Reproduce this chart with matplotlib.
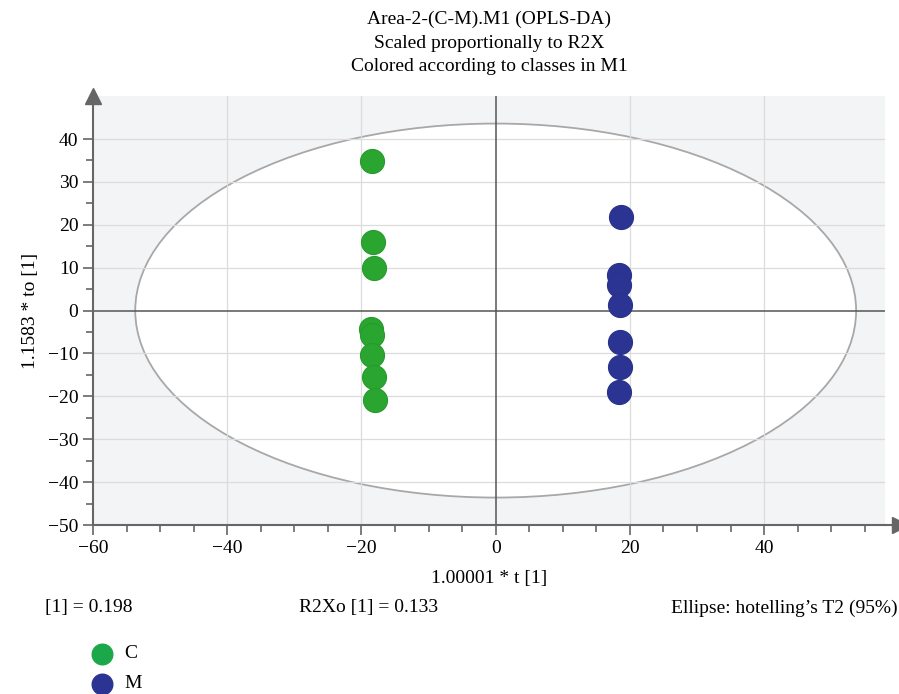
import matplotlib.pyplot as plt
from matplotlib.patches import Ellipse

plt.rcParams['font.family'] = ['Liberation Serif', 'DejaVu Serif']

# scores per class
c_t = [-18.5, -18.3, -18.2, -18.6, -18.4, -18.5, -18.2, -18.0]
c_to = [34.8, 16.0, 9.9, -4.2, -5.7, -10.4, -15.6, -20.9]
m_t = [18.7, 18.3, 18.4, 18.5, 18.5, 18.5, 18.4]
m_to = [21.9, 8.2, 5.9, 1.2, -7.3, -13.1, -18.9]

ell_a, ell_b = 53.7, 43.6  # hotelling T2 semi-axes

green = '#2aa530'
blue = '#2c3493'
fs = 14

fig = plt.figure(figsize=(8.99, 6.94), dpi=100)
ax = fig.add_axes([0.1034, 0.2435, 0.881, 0.618])
ax.set_facecolor('#f3f4f6')

ax.add_patch(Ellipse((0, 0), 2 * ell_a, 2 * ell_b, facecolor='white',
                     edgecolor='#a8a8a8', lw=1.3, zorder=1))

for v in [-40, -20, 20, 40]:
    ax.axvline(v, color='#dcdcdc', lw=0.9, zorder=2)
for v in [40, 30, 20, 10, -10, -20, -30, -40]:
    ax.axhline(v, color='#dcdcdc', lw=0.9, zorder=2)
ax.axhline(0, color='#555555', lw=1.1, zorder=2)
ax.axvline(0, color='#555555', lw=1.1, zorder=2)

ax.scatter(c_t, c_to, s=300, color=green, edgecolors='#279a2d', lw=0.8, zorder=4)
ax.scatter(m_t, m_to, s=300, color=blue, edgecolors='#2a3289', lw=0.8, zorder=4)

ax.set_xlim(-60, 58)
ax.set_ylim(-50, 50)
ax.set_xticks([-60, -40, -20, 0, 20, 40])
ax.set_xticklabels(['\u221260', '\u221240', '\u221220', '0', '20', '40'])
ax.set_yticks(range(-50, 41, 10))
ax.set_yticklabels([str(v).replace('-', '\u2212') for v in range(-50, 41, 10)])
ax.set_xticks(range(-60, 58, 5), minor=True)
ax.set_yticks(range(-50, 41, 5), minor=True)
ax.tick_params(labelsize=fs, color='#666666', width=1.2, length=7)
ax.tick_params(which='minor', color='#666666', width=1.2, length=5)

for s in ['top', 'right']:
    ax.spines[s].set_visible(False)
for s in ['left', 'bottom']:
    ax.spines[s].set_color('#666666')
    ax.spines[s].set_linewidth(1.5)

# axis arrows
ax.plot([-60], [50], marker='^', ms=11, color='#666666', clip_on=False, zorder=5)
ax.plot([60.3], [-50], marker='>', ms=11, color='#666666', clip_on=False, zorder=5)
ax.plot([58, 60], [-50, -50], color='#666666', lw=1.5, clip_on=False)

ax.set_xlabel('1.00001 * t [1]', fontsize=fs, labelpad=10)
ax.set_ylabel('1.1583 * to [1]', fontsize=fs, labelpad=6)
ax.set_title('Area-2-(C-M).M1 (OPLS-DA)\nScaled proportionally to R2X\n'
             'Colored according to classes in M1', fontsize=fs, pad=18,
             linespacing=1.5)

fig.text(0.05, 0.124, '[1] = 0.198', fontsize=fs, va='center')
fig.text(0.333, 0.124, 'R2Xo [1] = 0.133', fontsize=fs, va='center')
fig.text(0.998, 0.124, 'Ellipse: hotelling\u2019s T2 (95%)', fontsize=fs,
         va='center', ha='right')

lax = fig.add_axes([0, 0, 1, 1], facecolor='none')
lax.set_axis_off()
lax.set_xlim(0, 1)
lax.set_ylim(0, 1)
lax.scatter([0.1135], [1 - 654 / 694], s=220, color='#1ba84a')
lax.scatter([0.1135], [1 - 684 / 694], s=220, color='#2c3493')
lax.text(0.138, 1 - 654 / 694, 'C', fontsize=fs, va='center')
lax.text(0.138, 1 - 684 / 694, 'M', fontsize=fs, va='center')

fig.savefig('out.png', dpi=100)
